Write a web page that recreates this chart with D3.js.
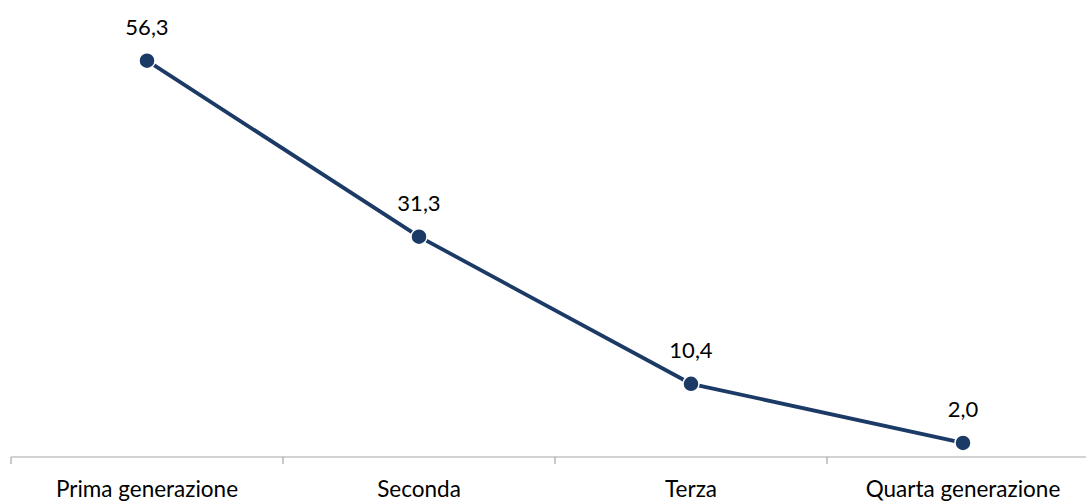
<!DOCTYPE html>
<html>
<head>
<meta charset="utf-8">
<script src="https://cdn.jsdelivr.net/npm/d3@7"></script>
<style>
  html, body { margin: 0; padding: 0; background: #fff; }
  svg { display: block; }
  text { font-family: Lato, "Open Sans", sans-serif; fill: #000; }
</style>
</head>
<body>
<svg id="chart" width="1086" height="502"></svg>
<script>
const categories = ["Prima generazione", "Seconda", "Terza", "Quarta generazione"];
const values = [56.3, 31.3, 10.4, 2.0];
const valueLabels = ["56,3", "31,3", "10,4", "2,0"];

const svg = d3.select("#chart");
const lineColor = "#1b3a66";

const x = d3.scaleBand()
  .domain(categories)
  .range([11, 1099])
  .paddingInner(0)
  .paddingOuter(0);

const y = d3.scaleLinear()
  .domain([0, 60])
  .range([457, 457 - 60 * 7.04]);

// category axis along the zero line
const axisG = svg.append("g");
axisG.append("line")
  .attr("x1", x.range()[0]).attr("x2", x.range()[1])
  .attr("y1", y(0)).attr("y2", y(0))
  .attr("stroke", "#a6a6a6").attr("stroke-width", 1.2);
const tickPos = categories.map(c => x(c)).concat([x.range()[1]]);
axisG.selectAll("line.tick").data(tickPos).enter().append("line")
  .attr("class", "tick")
  .attr("x1", d => d).attr("x2", d => d)
  .attr("y1", y(0)).attr("y2", y(0) + 7)
  .attr("stroke", "#a6a6a6").attr("stroke-width", 1.2);
axisG.selectAll("text").data(categories).enter().append("text")
  .attr("x", d => x(d) + x.bandwidth() / 2)
  .attr("y", 497)
  .attr("text-anchor", "middle")
  .attr("font-size", 22.5)
  .text(d => d);

const pts = categories.map((c, i) => ({ c, v: values[i], label: valueLabels[i] }));
const cx = d => x(d.c) + x.bandwidth() / 2;

svg.append("path")
  .datum(pts)
  .attr("fill", "none")
  .attr("stroke", lineColor)
  .attr("stroke-width", 3.8)
  .attr("stroke-linejoin", "round")
  .attr("d", d3.line().x(cx).y(d => y(d.v)));

svg.selectAll("circle.pt").data(pts).enter().append("circle")
  .attr("class", "pt")
  .attr("cx", cx)
  .attr("cy", d => y(d.v))
  .attr("r", 8)
  .attr("fill", lineColor)
  .attr("stroke", "#fff")
  .attr("stroke-width", 1.5);

svg.selectAll("text.val").data(pts).enter().append("text")
  .attr("class", "val")
  .attr("x", cx)
  .attr("y", d => y(d.v) - 26)
  .attr("text-anchor", "middle")
  .attr("font-size", 22)
  .text(d => d.label);
</script>
</body>
</html>
